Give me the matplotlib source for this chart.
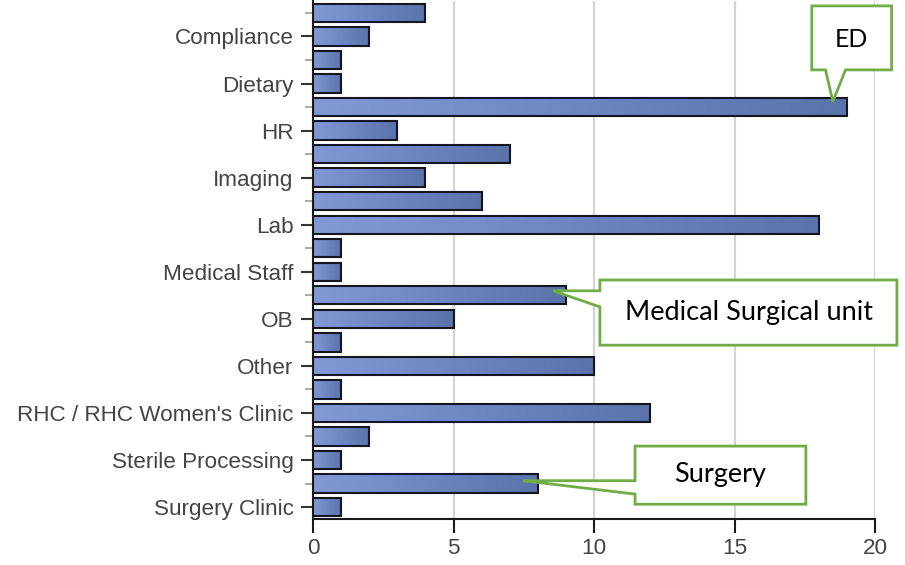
import numpy as np
import matplotlib.pyplot as plt
from matplotlib.colors import LinearSegmentedColormap
from matplotlib.patches import Polygon

# one bar per row, only every second row carries a label
labels = ["", "Compliance", "", "Dietary", "", "HR", "", "Imaging", "", "Lab",
          "", "Medical Staff", "", "OB", "", "Other", "", "RHC / RHC Women's Clinic",
          "", "Sterile Processing", "", "Surgery Clinic"]
counts = [4, 2, 1, 1, 19, 3, 7, 4, 6, 18, 1, 1, 9, 5, 1, 10, 1, 12, 2, 1, 8, 1]
x_ticks = [0, 5, 10, 15, 20]

callout_texts = ["ED", "Medical Surgical unit", "Surgery"]

plt.rcParams['font.family'] = ['Liberation Sans', 'DejaVu Sans']

fig = plt.figure(figsize=(9.05, 5.65), dpi=100)
ax = fig.add_axes([313/905, 1-518.8/565, 562/905, 517.6/565])

y = np.arange(len(counts))
h = 0.78
bars = ax.barh(y, counts, height=h, color='none', edgecolor='#15151f',
               linewidth=1.5, zorder=3)

# horizontal gradient inside each bar
cmap = LinearSegmentedColormap.from_list('bar', ['#8299d6', '#5a73ab'])
grad = np.linspace(0, 1, 256).reshape(1, -1)
for b in bars:
    x0, y0 = b.get_x(), b.get_y()
    im = ax.imshow(grad, cmap=cmap, extent=[x0, x0+b.get_width(), y0, y0+h],
                   aspect='auto', zorder=2.5, interpolation='bicubic')
    im.set_clip_path(b)

ax.set_xlim(0, 20)
ax.set_ylim(len(counts)-0.5, -0.5)
ax.set_aspect('auto')

ax.set_xticks(x_ticks)
ax.set_xticklabels([str(t) for t in x_ticks])
major = [i for i, l in enumerate(labels) if l]
minor = [i for i, l in enumerate(labels) if not l]
ax.set_yticks(major)
ax.set_yticklabels([labels[i] for i in major])
ax.set_yticks(minor, minor=True)

for s in ['top', 'right']:
    ax.spines[s].set_visible(False)
for s in ['left', 'bottom']:
    ax.spines[s].set_color('#1a1a1a')
    ax.spines[s].set_linewidth(1.5)

ax.tick_params(axis='y', which='major', length=9, width=1.5, color='#333333',
               labelsize=16.2, labelcolor='#444444', pad=5)
ax.tick_params(axis='y', which='minor', length=6, width=1.2, color='#999999')
ax.tick_params(axis='x', length=10, width=1.5, color='#1a1a1a',
               labelsize=16.2, labelcolor='#444444', pad=4)

ax.xaxis.grid(True, color='#d4d4d4', linewidth=1.6)
ax.set_axisbelow(True)

# callouts (box + pointer), in data units
shapes = [
    [(17.75, -0.30), (20.59, -0.30), (20.59, 2.42), (18.95, 2.42),
     (18.5, 3.77), (18.24, 2.42), (17.75, 2.42)],
    [(10.21, 11.35), (20.78, 11.35), (20.78, 14.12), (10.21, 14.12),
     (10.21, 12.49), (8.54, 11.81), (10.21, 11.81)],
    [(11.46, 18.41), (17.54, 18.41), (17.54, 20.88), (11.46, 20.88),
     (11.46, 20.45), (7.47, 19.88), (11.46, 19.88)],
]
centers = [(19.17, 1.12), (15.5, 12.75), (14.5, 19.62)]
sizes = [18, 19.5, 19.5]
for pts, txt, c, fs in zip(shapes, callout_texts, centers, sizes):
    ax.add_patch(Polygon(pts, closed=True, facecolor='white', edgecolor='#70ad47',
                         linewidth=2, zorder=5, clip_on=False, joinstyle='miter'))
    ax.text(c[0], c[1], txt, ha='center', va='center', fontsize=fs,
            family='Lato', color='black', zorder=6, clip_on=False)

fig.savefig('out.png', dpi=100)
